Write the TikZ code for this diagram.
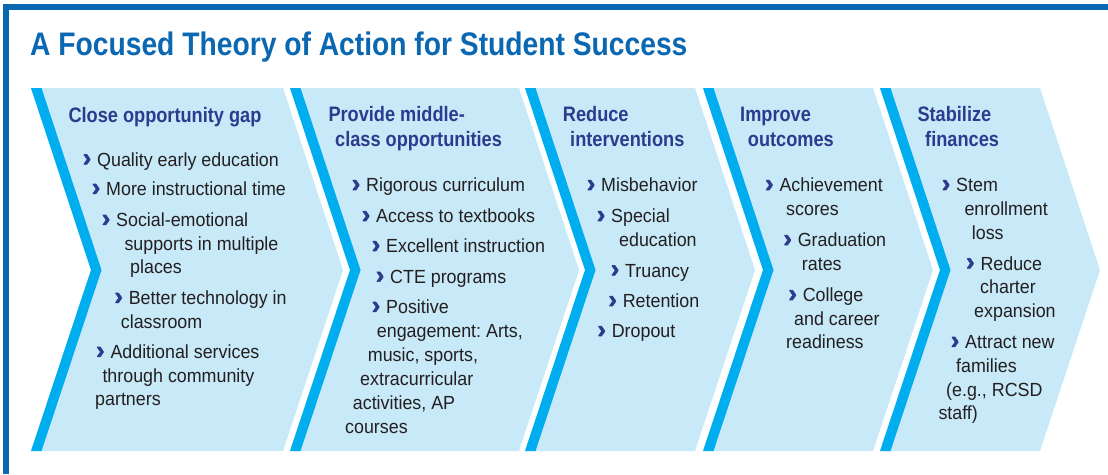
\documentclass[tikz,border=0pt]{standalone}
\usepackage{fontspec}
\setmainfont{Liberation Sans}
\frenchspacing
\newfontfamily\titlefam[FakeStretch=0.866]{Liberation Sans}
\newfontfamily\headfam[FakeStretch=0.87]{Liberation Sans}
\newfontfamily\bodyfam[FakeStretch=0.94]{Liberation Sans}
\newfontfamily\bulfam[FakeBold=2.5]{Liberation Sans Bold}
\definecolor{frameblue}{HTML}{0A67B2}
\definecolor{navy}{HTML}{2C3B8E}
\definecolor{textgray}{HTML}{231F20}
\definecolor{lightfill}{HTML}{C8E9F8}
\definecolor{stripe}{HTML}{00AEEF}
\newcommand\bul{\makebox[14.3pt][l]{\color{navy}\bulfam\fontsize{25}{25}\selectfont ›}}
\tikzset{
  txt/.style={anchor=base west, inner sep=0pt, text=textgray, font=\bodyfam\frenchspacing\fontsize{19}{20}\selectfont},
  hd/.style={anchor=base west, inner sep=0pt, text=navy, font=\headfam\bfseries\fontsize{20.9}{22}\selectfont},
  ttl/.style={anchor=base west, inner sep=0pt, text=frameblue, font=\titlefam\bfseries\fontsize{32.6}{36}\selectfont}
}
\begin{document}
\begin{tikzpicture}[x=1pt,y=-1pt]
\useasboundingbox[fill=white] (0,0) rectangle (1108,474);
% frame
\fill[frameblue] (3,4) rectangle (1108,10);
\fill[frameblue] (3,4) rectangle (9,474);
% title
\node[ttl] (title) at (30,55) {A Focused Theory of Action for Student Success};
% chevrons
\def\tp{88}\def\bt{451}\def\md{270}\def\dd{60}\def\ww{10.5}
\foreach \a/\b in {31/283, 290/519, 525/695, 703/873, 880/1040}{
  \fill[lightfill] (\a,\tp) -- (\a+\dd,\md) -- (\a,\bt) -- (\b,\bt) -- (\b+\dd,\md) -- (\b,\tp) -- cycle;
  \fill[stripe] (\a,\tp) -- (\a+\ww,\tp) -- (\a+\ww+\dd,\md) -- (\a+\ww,\bt) -- (\a,\bt) -- (\a+\dd,\md) -- cycle;
}
% column 1
\node[hd] (h1) at (68.3,122) {Close opportunity gap};
\node[txt] (c1a) at (82.7,166) {\bul Quality early education};
\node[txt] (c1b) at (91.7,195.5) {\bul More instructional time};
\node[txt] (c1c) at (101.7,226.5) {\bul Social-emotional};
\node[txt] (c1d) at (124.3,250) {supports in multiple};
\node[txt] (c1e) at (130,273.5) {places};
\node[txt] (c1f) at (114.3,304.5) {\bul Better technology in};
\node[txt] (c1g) at (120.7,328.5) {classroom};
\node[txt] (c1h) at (96,358.5) {\bul Additional services};
\node[txt] (c1i) at (102.3,382) {through community};
\node[txt] (c1j) at (95,405.5) {partners};
% column 2
\node[hd] (h2a) at (328.3,121.7) {Provide middle-};
\node[hd] (h2b) at (335,146.7) {class opportunities};
\node[txt] (c2a) at (351.7,191.7) {\bul Rigorous curriculum};
\node[txt] (c2b) at (361.7,222.7) {\bul Access to textbooks};
\node[txt] (c2c) at (371.7,252.7) {\bul Excellent instruction};
\node[txt] (c2d) at (375.7,283.3) {\bul CTE programs};
\node[txt] (c2e) at (371.7,313.5) {\bul Positive};
\node[txt] (c2f) at (376.7,337.5) {engagement: Arts,};
\node[txt] (c2g) at (367.7,361.5) {music, sports,};
\node[txt] (c2h) at (360,385.5) {extracurricular};
\node[txt] (c2i) at (352.7,409.5) {activities, AP};
\node[txt] (c2j) at (345,433) {courses};
% column 3
\node[hd] (h3a) at (562.7,121.7) {Reduce};
\node[hd] (h3b) at (570,146.7) {interventions};
\node[txt] (c3a) at (586.7,191.7) {\bul Misbehavior};
\node[txt] (c3b) at (596.7,222.7) {\bul Special};
\node[txt] (c3c) at (619,246.5) {education};
\node[txt] (c3d) at (610.7,277) {\bul Truancy};
\node[txt] (c3e) at (608.3,307.7) {\bul Retention};
\node[txt] (c3f) at (597.3,337.7) {\bul Dropout};
% column 4
\node[hd] (h4a) at (740,121.7) {Improve};
\node[hd] (h4b) at (747.7,146.7) {outcomes};
\node[txt] (c4a) at (765,191.7) {\bul Achievement};
\node[txt] (c4b) at (786,215.7) {scores};
\node[txt] (c4c) at (783.3,246.7) {\bul Graduation};
\node[txt] (c4d) at (801.7,270) {rates};
\node[txt] (c4e) at (788.3,301.7) {\bul College};
\node[txt] (c4f) at (794,325) {and career};
\node[txt] (c4g) at (786,348.7) {readiness};
% column 5
\node[hd] (h5a) at (917.3,121.7) {Stabilize};
\node[hd] (h5b) at (925,146.7) {finances};
\node[txt] (c5a) at (941.7,191.7) {\bul Stem};
\node[txt] (c5b) at (964.3,215.5) {enrollment};
\node[txt] (c5c) at (971.7,239.3) {loss};
\node[txt] (c5d) at (966,270) {\bul Reduce};
\node[txt] (c5e) at (980,293.7) {charter};
\node[txt] (c5f) at (974,317.5) {expansion};
\node[txt] (c5g) at (950.7,348.5) {\bul Attract new};
\node[txt] (c5h) at (956,372.5) {families};
\node[txt] (c5i) at (946,396) {(e.g., RCSD};
\node[txt] (c5j) at (938.3,419) {staff)};
\end{tikzpicture}
\end{document}
